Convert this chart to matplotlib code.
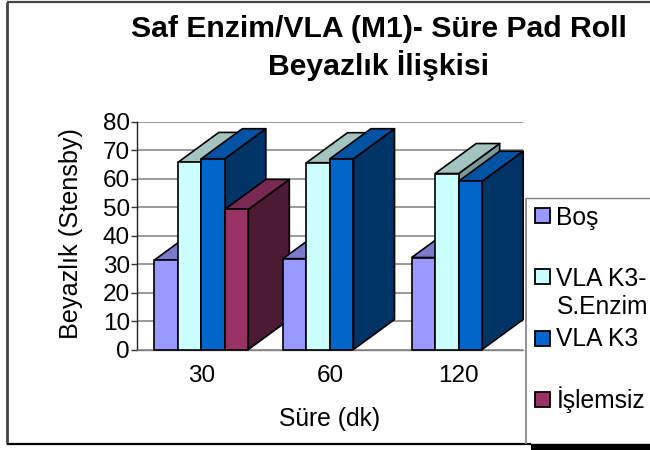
import matplotlib
matplotlib.use("Agg")
import matplotlib.pyplot as plt
from matplotlib.patches import Polygon, Rectangle
from matplotlib.lines import Line2D

plt.rcParams['font.family'] = ['Liberation Sans', 'DejaVu Sans']

categories = ['30', '60', '120']
series_names = ['Boş', 'VLA K3-\nS.Enzim', 'VLA K3', 'İşlemsiz']
bos = [31.4, 31.9, 32.3]
vla_s_enzim = [65.7, 65.6, 61.8]
vla_k3 = [67.0, 67.0, 59.1]
islemsiz = [49.2, None, None]
series = [bos, vla_s_enzim, vla_k3, islemsiz]
front = ['#9999FF', '#CCFFFF', '#0066CC', '#993366']
top = ['#7A7ACC', '#A3C4C0', '#0052A3', '#7A2952']
side = ['#5C5C99', '#7A9999', '#003366', '#4D1A33']

W, H = 650, 450
fig = plt.figure(figsize=(W / 100, H / 100), dpi=100, facecolor='white')


def fx(x):
    return x / W


def fy(y):
    return 1 - y / H


L, R, T, B = 137, 523, 121.7, 349.5
ax = fig.add_axes([fx(L), fy(B), (R - L) / W, (B - T) / H])
ax.set_xlim(-0.5, 2.5)
ax.set_ylim(0, 80)
ax.set_facecolor('none')
for s in ['top', 'right']:
    ax.spines[s].set_visible(False)
ax.spines['left'].set_linewidth(1.0)
ax.spines['left'].set_color('#222222')
ax.spines['bottom'].set_color('#808080')
ax.spines['bottom'].set_linewidth(1.0)
ax.set_yticks(range(0, 81, 10))
ax.set_xticks(range(3), categories)
ax.tick_params(axis='y', labelsize=17.5, length=4, width=1, color='#333333', pad=1.0)
ax.tick_params(axis='x', labelsize=17.5, length=0, pad=11.5)
ax.grid(axis='y', color='#808080', linewidth=1.1)
ax.set_axisbelow(True)

bw = 23.5 / (R - L) * 3
dx = 41 / (R - L) * 3
dy = 30 / (B - T) * 80
edge = dict(edgecolor='black', linewidth=1.2, joinstyle='round', clip_on=False)
for c in range(len(categories)):
    for k, vals in enumerate(series):
        v = vals[c]
        if v is None:
            continue
        x0 = c - 2 * bw + k * bw
        x1 = x0 + bw
        ax.add_patch(Polygon([(x1, 0), (x1 + dx, dy), (x1 + dx, v + dy), (x1, v)],
                             facecolor=side[k], zorder=3, **edge))
        ax.add_patch(Polygon([(x0, v), (x0 + dx, v + dy), (x1 + dx, v + dy), (x1, v)],
                             facecolor=top[k], zorder=3, **edge))
        ax.add_patch(Rectangle((x0, 0), bw, v, facecolor=front[k], zorder=3, **edge))

fig.text(fx(378.5), fy(29), 'Saf Enzim/VLA (M1)- Süre Pad Roll', ha='center', va='center',
         fontsize=21.7, fontweight='bold', color='black')
fig.text(fx(379), fy(65.5), 'Beyazlık İlişkisi', ha='center', va='center',
         fontsize=21.7, fontweight='bold', color='black')
fig.text(fx(71), fy(233.5), 'Beyazlık (Stensby)', rotation=90, ha='center', va='center',
         fontsize=18.2, color='black')
fig.text(fx(330), fy(419), 'Süre (dk)', ha='center', va='center', fontsize=17.8, color='black')

# chart frame and legend box
frame = [((7, 1.5), (650, 1.5), '#444444', 1.6),
         ((7, 1.5), (7, 444), '#444444', 2.0),
         ((7, 444), (531, 444), 'black', 1.6),
         ((525.5, 198), (650, 198), '#808080', 1.0),
         ((525.5, 198), (525.5, 444), '#808080', 1.2),
         ((531, 447), (650, 447), 'black', 4.6)]
for a, b, col, lw in frame:
    fig.add_artist(Line2D([fx(a[0]), fx(b[0])], [fy(a[1]), fy(b[1])], color=col,
                          linewidth=lw, solid_capstyle='butt'))

swatch_y = [216, 276.7, 338, 399]
text_y = [217.5, 293, 339, 399.5]
for name, col, sy, ty in zip(series_names, front, swatch_y, text_y):
    fig.add_artist(Rectangle((fx(534.5), fy(sy + 7.5)), 15 / W, 15 / H, facecolor=col,
                             edgecolor='black', linewidth=1.3, transform=fig.transFigure))
    fig.text(fx(556.5), fy(ty), name, ha='left', va='center', fontsize=17.7,
             linespacing=1.2, color='black')

fig.savefig('out.png', dpi=100, facecolor='white')
